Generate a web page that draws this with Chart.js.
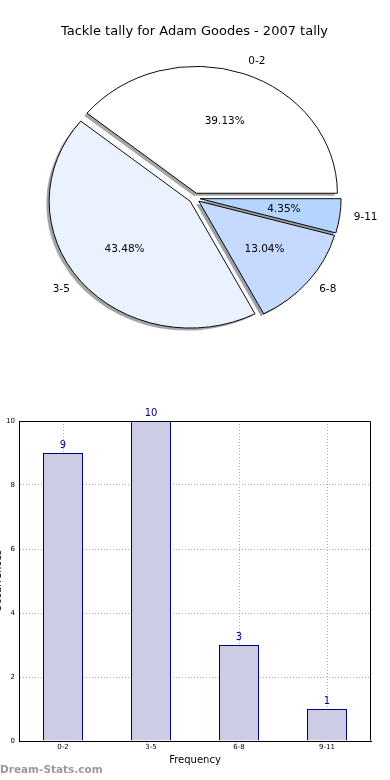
<!DOCTYPE html>
<html><head><meta charset="utf-8">
<script src="https://cdn.jsdelivr.net/npm/chart.js@4.4.1/dist/chart.umd.min.js"></script>
<style>
html,body{margin:0;padding:0;background:#fff;width:390px;height:780px;overflow:hidden;position:relative;font-family:"DejaVu Sans",sans-serif}
#pie{position:absolute;left:0;top:0}
#bar{position:absolute;left:-8px;top:400px}
#wm{position:absolute;left:0;top:763px;font:bold 10.5px "DejaVu Sans",sans-serif;color:#9a9a9a;white-space:nowrap}
</style></head><body>
<canvas id="pie" width="390" height="390"></canvas>
<canvas id="bar" width="398" height="380"></canvas>
<div id="wm">Dream-Stats.com</div>
<script>
// ---- data ----
const categories = ['0-2', '3-5', '6-8', '9-11'];
const tallyCounts = [9, 10, 3, 1];
const pieColors = ['#ffffff', '#ebf2ff', '#c6d9ff', '#b4d5ff'];
const yTickValues = [0, 2, 4, 6, 8, 10];
const chartTitle = 'Tackle tally for Adam Goodes - 2007 tally';

// ---- pie style ----
const K = 0.9;                          // vertical squash (ellipse)
const explodePx = [5.6, 5.6, 5.6, 5.6]; // per category, px
const total = tallyCounts.reduce((a, b) => a + b, 0);

// Chart.js draws clockwise; reverse to reproduce counter-clockwise order from east
const order = categories.map((_, i) => i).reverse();
const pieLabels = order.map(i => categories[i]);
const pieValues = order.map(i => tallyCounts[i]);
const pieBg = order.map(i => pieColors[i]);
const pieExplode = order.map(i => explodePx[i]);
const shadowOf = c => {
  const n = parseInt(c.slice(1), 16);
  const r = (n >> 16) & 255, g = (n >> 8) & 255, b = n & 255;
  return `rgba(${Math.round(r * 0.3)},${Math.round(g * 0.3)},${Math.round(b * 0.3)},0.5)`;
};

const pieDraw = {
  id: 'pieDraw',
  beforeDatasetDraw(chart, args) {
    const ctx = chart.ctx;
    const arcs = args.meta.data;
    const frame = (arc, i, fn) => {
      const mid = (arc.startAngle + arc.endAngle) / 2;
      const d = pieExplode[i];
      ctx.save();
      ctx.translate(arc.x, arc.y);
      ctx.scale(1, K);
      ctx.translate(-arc.x, -arc.y);
      ctx.translate(Math.cos(mid) * d, Math.sin(mid) * d);
      fn(arc);
      ctx.restore();
    };
    arcs.forEach((arc, i) => frame(arc, i, a => {
      ctx.translate(-2.8, 2.8);
      ctx.beginPath();
      ctx.moveTo(a.x, a.y);
      ctx.arc(a.x, a.y, a.outerRadius, a.startAngle, a.endAngle);
      ctx.closePath();
      ctx.fillStyle = shadowOf(pieBg[i]);
      ctx.fill();
    }));
    arcs.forEach((arc, i) => frame(arc, i, a => a.draw(ctx)));
    return false;
  },
  afterDraw(chart) {
    const ctx = chart.ctx;
    const arcs = chart.getDatasetMeta(0).data;
    ctx.save();
    ctx.fillStyle = '#000';
    ctx.font = '10.5px "DejaVu Sans"';
    ctx.textBaseline = 'middle';
    arcs.forEach((a, i) => {
      const mid = (a.startAngle + a.endAngle) / 2;
      const c = Math.cos(mid), s = Math.sin(mid);
      const d = pieExplode[i];
      const sx = a.x + c * d, sy = a.y + s * d * K;
      const r = a.outerRadius;
      ctx.textAlign = 'center';
      ctx.fillText((pieValues[i] / total * 100).toFixed(2) + '%', sx + c * r * 0.6, sy + s * r * 0.6 * K);
      ctx.textAlign = c > 0 ? 'left' : 'right';
      ctx.fillText(pieLabels[i], sx + c * r * 1.1, sy + s * r * 1.1 * K);
    });
    ctx.restore();
  }
};

new Chart(document.getElementById('pie'), {
  type: 'pie',
  data: {
    labels: pieLabels,
    datasets: [{
      data: pieValues,
      backgroundColor: pieBg,
      borderColor: '#000',
      borderWidth: 1,
      borderJoinStyle: 'miter',
      radius: 141
    }]
  },
  options: {
    responsive: false,
    animation: false,
    rotation: 90,
    layout: { padding: { left: 0, right: 1, top: 0, bottom: 33.6 } },
    plugins: {
      legend: { display: false },
      tooltip: { enabled: false },
      title: {
        display: true, text: chartTitle, color: '#000',
        font: { family: 'DejaVu Sans', size: 13, weight: 'normal' },
        padding: { top: 24, bottom: 0 }
      }
    }
  },
  plugins: [pieDraw]
});

// ---- bar chart ----
const frameBox = {
  id: 'frameBox',
  afterDraw(chart) {
    const { ctx, chartArea: a } = chart;
    ctx.save();
    ctx.strokeStyle = '#000';
    ctx.lineWidth = 1;
    ctx.beginPath();
    const l = Math.round(a.left) + 0.5, r = Math.round(a.right) - 0.5;
    const t = Math.round(a.top) + 0.5, b = Math.round(a.bottom) - 0.5;
    ctx.moveTo(l, t); ctx.lineTo(r, t); ctx.lineTo(r, b);
    ctx.stroke();
    // value labels
    ctx.fillStyle = '#000080';
    ctx.font = '10px "DejaVu Sans"';
    ctx.textAlign = 'center';
    ctx.textBaseline = 'bottom';
    chart.getDatasetMeta(0).data.forEach((bar, i) => {
      ctx.fillText(String(tallyCounts[i]), bar.x, bar.y - 3);
    });
    ctx.restore();
  }
};

const tickFont = { family: 'DejaVu Sans', size: 7 };
new Chart(document.getElementById('bar'), {
  type: 'bar',
  data: {
    labels: categories,
    datasets: [{
      data: tallyCounts,
      backgroundColor: '#ccccE5',
      borderColor: '#000080',
      borderWidth: 1,
      barPercentage: 40 / 88,
      categoryPercentage: 1
    }]
  },
  options: {
    responsive: false,
    animation: false,
    layout: { padding: { left: 0, right: 19, top: 21, bottom: 9 } },
    plugins: { legend: { display: false }, tooltip: { enabled: false } },
    scales: {
      x: {
        offset: true,
        z: 1,
        grid: { offset: false, color: '#aaaaaa', drawTicks: false },
        border: { color: '#000', width: 1, dash: [1, 2] },
        ticks: { color: '#000', font: tickFont, padding: 2 },
        title: { display: true, text: 'Frequency', color: '#000', font: { family: 'DejaVu Sans', size: 10 }, padding: { top: 0, bottom: 5 } },
        afterFit: s => { s.height = 30; }
      },
      y: {
        min: 0, max: 10,
        z: 1,
        grid: { color: '#aaaaaa', drawTicks: false },
        border: { color: '#000', width: 1, dash: [1, 2] },
        ticks: { color: '#000', font: tickFont, padding: 4 },
        afterBuildTicks: s => { s.ticks = yTickValues.map(v => ({ value: v })); },
        title: { display: true, text: 'Occurrences', color: '#000', font: { family: 'DejaVu Sans', size: 10 }, padding: { top: 0, bottom: 0 } },
        afterFit: s => { s.width = 27; }
      }
    }
  },
  plugins: [frameBox]
});
</script>
</body></html>
